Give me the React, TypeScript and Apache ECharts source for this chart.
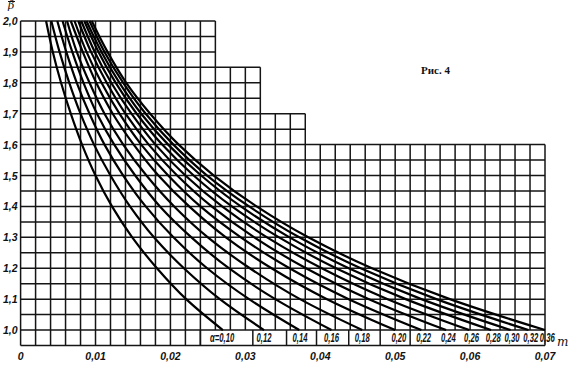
import React, { useEffect, useRef } from "react";
import * as echarts from "echarts";

// β levels at which each curve's m value was read
const betaLevels = [1.0, 1.1, 1.2, 1.3, 1.4, 1.5, 1.6, 1.7, 1.8, 1.9, 2.0];

// m values of each α curve at the β levels above
const mAlpha010 = [0.027, 0.0221, 0.0182, 0.0149, 0.0122, 0.0100, 0.0082, 0.0067, 0.0054, 0.0043, 0.0034];
const mAlpha012 = [0.0325, 0.0266, 0.0218, 0.0178, 0.0146, 0.0120, 0.0098, 0.0080, 0.0065, 0.0052, 0.0041];
const mAlpha014 = [0.0372, 0.0305, 0.0249, 0.0204, 0.0167, 0.0137, 0.0112, 0.0092, 0.0075, 0.0061, 0.0049];
const mAlpha016 = [0.0415, 0.034, 0.0278, 0.0228, 0.0186, 0.0153, 0.0125, 0.0102, 0.0084, 0.0069, 0.0056];
const mAlpha018 = [0.0456, 0.0373, 0.0306, 0.025, 0.0205, 0.0168, 0.0137, 0.0112, 0.0092, 0.0075, 0.0062];
const mAlpha020 = [0.05, 0.0409, 0.0335, 0.0274, 0.0225, 0.0184, 0.0151, 0.0123, 0.0101, 0.0083, 0.0067];
const mAlpha022 = [0.0535, 0.0438, 0.0359, 0.0294, 0.024, 0.0197, 0.0161, 0.0132, 0.0108, 0.0088, 0.0072];
const mAlpha024 = [0.0568, 0.0465, 0.0381, 0.0312, 0.0255, 0.0209, 0.0171, 0.014, 0.0115, 0.0094, 0.0077];
const mAlpha026 = [0.0599, 0.049, 0.0402, 0.0329, 0.0269, 0.022, 0.018, 0.0148, 0.0121, 0.0099, 0.0081];
const mAlpha028 = [0.0628, 0.0514, 0.0421, 0.0345, 0.0282, 0.0231, 0.0189, 0.0155, 0.0127, 0.0104, 0.0085];
const mAlpha030 = [0.0654, 0.0535, 0.0438, 0.0359, 0.0294, 0.0241, 0.0197, 0.0161, 0.0132, 0.0108, 0.0088];
const mAlpha032 = [0.0678, 0.0555, 0.0454, 0.0372, 0.0305, 0.0249, 0.0204, 0.0167, 0.0137, 0.0112, 0.0092];
const mAlpha036 = [0.07, 0.0573, 0.0469, 0.0384, 0.0315, 0.0258, 0.0211, 0.0173, 0.0141, 0.0116, 0.0095];

const curves = [
  mAlpha010, mAlpha012, mAlpha014, mAlpha016, mAlpha018, mAlpha020, mAlpha022,
  mAlpha024, mAlpha026, mAlpha028, mAlpha030, mAlpha032, mAlpha036,
];

// α labels in the bottom row and their positions along m
const alphaLabels = ["α=0,10", "0,12", "0,14", "0,16", "0,18", "0,20", "0,22", "0,24", "0,26", "0,28", "0,30", "0,32", "0,36"];
const alphaLabelPos = [0.0269, 0.0325, 0.0373, 0.0415, 0.0456, 0.0505, 0.0538, 0.0571, 0.0602, 0.0631, 0.0656, 0.0681, 0.0703];

// stepped outline of the printed grid
const stepFrom = [0, 0.026, 0.032, 0.038];
const stepTo = [0.026, 0.032, 0.038, 0.07];
const stepTop = [2.0, 1.85, 1.7, 1.6];
const labelRowSeparators = [0.024, 0.031, 0.0355, 0.0395, 0.0438, 0.048, 0.052];

const X_MIN = 0;
const X_MAX = 0.07;
const Y_MIN = 0.95;
const Y_LABEL_ROW_TOP = 1.0;
const CELL_X = 0.002;
const CELL_Y = 0.05;

function topAt(x: number): number {
  let t = Y_MIN;
  for (let i = 0; i < stepFrom.length; i++) {
    if (x >= stepFrom[i] - 1e-9 && x <= stepTo[i] + 1e-9) t = Math.max(t, stepTop[i]);
  }
  return t;
}

function rightAt(y: number): number {
  let r = X_MIN;
  for (let i = 0; i < stepFrom.length; i++) {
    if (stepTop[i] >= y - 1e-9) r = Math.max(r, stepTo[i]);
  }
  return r;
}

function buildGridSegments(): number[][] {
  const segs: number[][] = [];
  const nx = Math.round((X_MAX - X_MIN) / CELL_X);
  for (let k = 0; k <= nx; k++) {
    const x = +(X_MIN + k * CELL_X).toFixed(4);
    const top = topAt(x);
    const bottom = x <= 0.024 + 1e-9 || k === nx ? Y_MIN : Y_LABEL_ROW_TOP;
    segs.push([x, bottom, x, top]);
  }
  labelRowSeparators.forEach((x) => segs.push([x, Y_MIN, x, Y_LABEL_ROW_TOP]));
  const ny = Math.round((2.0 - Y_MIN) / CELL_Y);
  for (let j = 0; j <= ny; j++) {
    const y = +(Y_MIN + j * CELL_Y).toFixed(3);
    segs.push([X_MIN, y, rightAt(y), y]);
  }
  return segs;
}

const fmt = (v: number, digits: number) => (v === 0 ? "0" : v.toFixed(digits).replace(".", ","));

export default function App() {
  const ref = useRef<HTMLDivElement>(null);
  useEffect(() => {
    if (!ref.current) return;
    const chart = echarts.init(ref.current, null, { renderer: "svg" });
    const labelFont = "'Liberation Sans', Arial, sans-serif";
    const option: any = {
      animation: false,
      backgroundColor: "#ffffff",
      grid: { left: 16, right: 25, top: 21, bottom: 19.5 },
      xAxis: {
        type: "value",
        min: X_MIN,
        max: X_MAX,
        interval: 0.01,
        axisLine: { show: false },
        axisTick: { show: false },
        splitLine: { show: false },
        axisLabel: {
          margin: 5,
          color: "#111",
          fontSize: 10.5,
          fontStyle: "italic",
          fontWeight: "bold",
          fontFamily: labelFont,
          formatter: (v: number) => fmt(v, 2),
        },
      },
      yAxis: {
        type: "value",
        min: Y_MIN,
        max: 2.0,
        interval: 0.05,
        axisLine: { show: false },
        axisTick: { show: false },
        splitLine: { show: false },
        axisLabel: {
          margin: 3,
          color: "#111",
          fontSize: 10.5,
          fontStyle: "italic",
          fontWeight: "bold",
          fontFamily: labelFont,
          formatter: (v: number) => (Math.round(v * 100) % 10 === 0 ? fmt(v, 1) : ""),
        },
      },
      graphic: [
        { type: "text", left: 8, top: 0, style: { text: "β", fontSize: 11, fontStyle: "italic", fontFamily: "'DejaVu Serif', serif", fill: "#111" } },
        { type: "line", shape: { x1: 8, y1: 1.5, x2: 15, y2: 1.5 }, style: { stroke: "#111", lineWidth: 1 } },
        { type: "text", left: 557, top: 336, style: { text: "m", fontSize: 12, fontStyle: "italic", fontFamily: "'DejaVu Serif', serif", fill: "#111" } },
        { type: "text", left: 421, top: 64, style: { text: "Рис. 4", fontSize: 11, fontWeight: "bold", fontFamily: "'Liberation Serif', serif", fill: "#111" } },
      ],
      series: [
        {
          type: "custom",
          name: "grid",
          silent: true,
          clip: false,
          z: 1,
          encode: { x: [0, 2], y: [1, 3] },
          data: buildGridSegments(),
          renderItem: (_params: any, api: any) => {
            const p1 = api.coord([api.value(0), api.value(1)]);
            const p2 = api.coord([api.value(2), api.value(3)]);
            return {
              type: "line",
              shape: { x1: p1[0], y1: p1[1], x2: p2[0], y2: p2[1] },
              style: { stroke: "#151515", lineWidth: 1.5 },
            };
          },
        },
        ...curves.map((m, i) => ({
          type: "line",
          name: alphaLabels[i],
          data: m.map((mv, j) => [mv, betaLevels[j]]),
          smooth: 0.35,
          showSymbol: false,
          symbol: "none",
          z: 3,
          lineStyle: { color: "#000", width: 2.2 },
          silent: true,
        })),
        {
          type: "custom",
          name: "alpha labels",
          z: 4,
          silent: true,
          clip: false,
          encode: { x: 0, y: 1 },
          data: alphaLabels.map((_t, i) => [alphaLabelPos[i], (Y_MIN + Y_LABEL_ROW_TOP) / 2, i]),
          renderItem: (_params: any, api: any) => {
            const p = api.coord([api.value(0), api.value(1)]);
            const idx = api.value(2);
            return {
              type: "text",
              x: p[0],
              y: p[1],
              scaleX: 0.64,
              style: {
                text: alphaLabels[idx],
                x: 0,
                y: 0,
                align: "center",
                verticalAlign: "middle",
                fill: "#111",
                fontSize: 12,
                fontStyle: "italic",
                fontWeight: "bold",
                fontFamily: labelFont,
              },
            };
          },
        },
      ],
    };
    chart.setOption(option);
    return () => chart.dispose();
  }, []);
  return <div ref={ref} style={{ position: "fixed", left: 0, top: 0, width: 570, height: 365, background: "#fff" }} />;
}
